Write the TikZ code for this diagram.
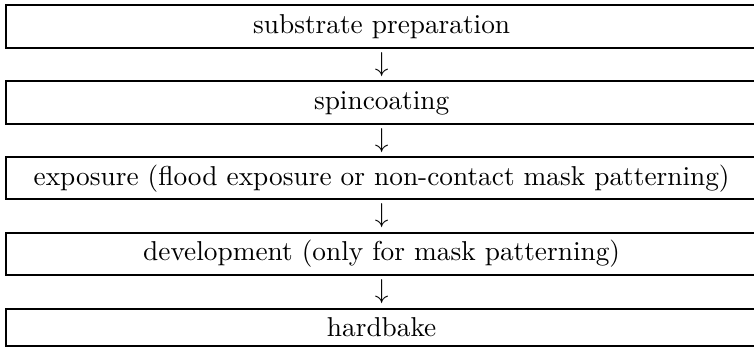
\documentclass[tikz,border=0pt]{standalone}
\usetikzlibrary{positioning}
\begin{document}
\begin{tikzpicture}
    \tikzset{
    stage box/.style={rectangle,draw,line width=0.75pt,minimum width=275pt,inner xsep=3pt,inner ysep=3.3pt,outer sep=0pt,text height=6.94pt,text depth=1.94pt},
    flow arrow/.style={midway,inner sep=0pt}
    }
    \path[use as bounding box,clip] (0,0) rectangle (276pt,-128.1pt);
    \node[stage box,anchor=north west] (prep) at (2.2pt,-2pt) {substrate preparation};
    \node[stage box,below=12.27pt of prep] (spin) {spincoating};
    \node[stage box,below=12.27pt of spin] (expo) {exposure (flood exposure or non-contact mask patterning)};
    \node[stage box,below=12.27pt of expo] (devel) {development (only for mask patterning)};
    \node[stage box,below=12.27pt of devel,text depth=0pt] (bake) {hardbake};
    % arrows between the stages
    \path (prep.south) -- node[flow arrow]{$\downarrow$} (spin.north);
    \path (spin.south) -- node[flow arrow]{$\downarrow$} (expo.north);
    \path (expo.south) -- node[flow arrow]{$\downarrow$} (devel.north);
    \path (devel.south) -- node[flow arrow]{$\downarrow$} (bake.north);
\end{tikzpicture}
\end{document}
